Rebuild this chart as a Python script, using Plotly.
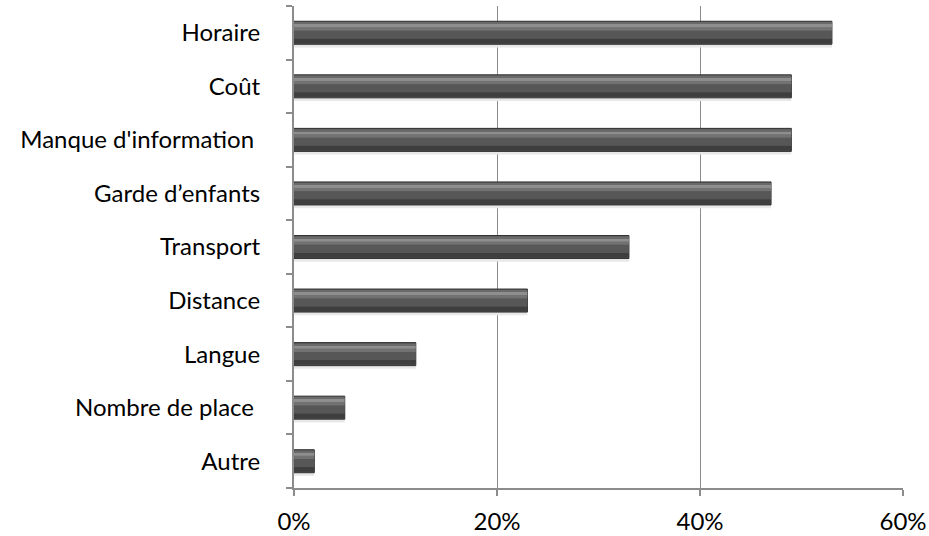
import plotly.graph_objects as go

categories = ["Autre", "Nombre de place ", "Langue", "Distance", "Transport",
              "Garde d\u2019enfants", "Manque d'information ", "Co\u00fbt", "Horaire"]
values = [0.02, 0.05, 0.12, 0.23, 0.33, 0.47, 0.49, 0.49, 0.53]

tick_vals = [0, 0.2, 0.4, 0.6]
tick_text = ["0%", "20%", "40%", "60%"]

# layered strips to emulate the bevelled/gradient bar look (bottom -> top in band units)
strips = [
    (-0.275, -0.215, "#e8e8e8", None),   # soft shadow
    (-0.215, 0.215, "#4a4a4a", "#333333"),
    (-0.195, -0.11, "#3e3e3e", None),
    (-0.11, 0.04, "#575757", None),
    (0.04, 0.10, "#727272", None),
    (0.10, 0.165, "#8e8e8e", None),
    (0.165, 0.20, "#6a6a6a", None),
]

fig = go.Figure()
for lo, hi, col, line in strips:
    fig.add_trace(go.Bar(
        y=categories, x=values, orientation="h",
        width=hi - lo, offset=lo,
        marker=dict(color=col,
                    line=dict(color=line if line else col, width=1 if line else 0)),
        hoverinfo="skip", showlegend=False,
    ))

fig.update_layout(
    width=929, height=536,
    margin=dict(l=294, r=26, t=6, b=48),
    barmode="overlay",
    plot_bgcolor="white", paper_bgcolor="white",
    font=dict(family="Lato, Carlito, 'Liberation Sans', sans-serif", size=24, color="#000000"),
    xaxis=dict(range=[0, 0.6], tickvals=tick_vals, ticktext=tick_text,
               showgrid=True, gridcolor="#8c8c8c", gridwidth=1,
               showline=True, linecolor="#8c8c8c", linewidth=2,
               ticks="outside", ticklen=6, tickcolor="#8c8c8c", tickwidth=2,
               zeroline=False, ticklabelstandoff=5, automargin=False),
    yaxis=dict(type="category", categoryorder="array", categoryarray=categories,
               range=[-0.5, 8.5],
               showline=True, linecolor="#8c8c8c", linewidth=2,
               ticks="outside", ticklen=6, tickcolor="#8c8c8c", tickwidth=2,
               tickson="boundaries", showgrid=False, ticklabelstandoff=27,
               automargin=False),
)

fig.write_html("out.html", config={"displayModeBar": False},
               post_script="document.body.style.margin='0';document.body.style.overflow='hidden';")
